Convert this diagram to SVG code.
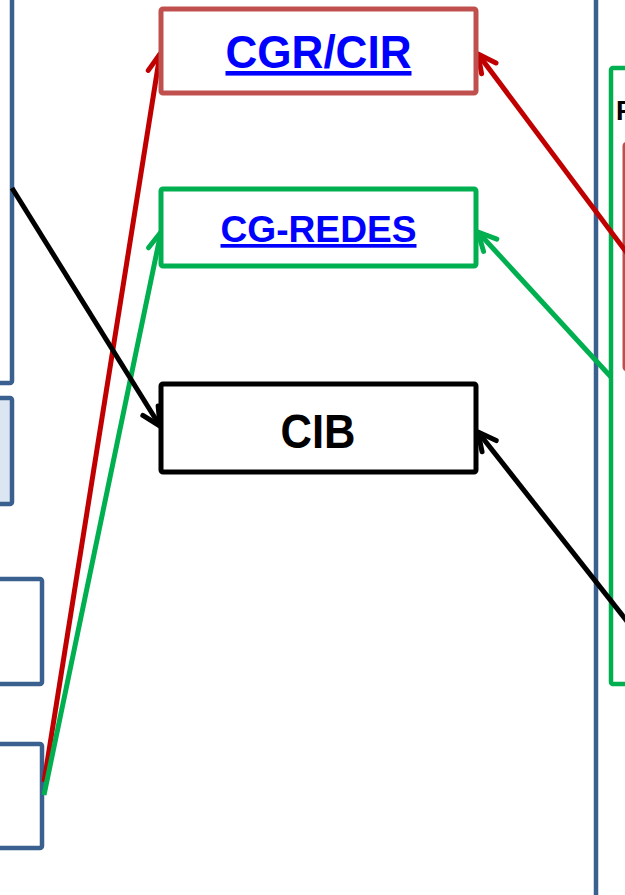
<svg xmlns="http://www.w3.org/2000/svg" width="625" height="895" viewBox="0 0 625 895">
<style>
.blue{fill:none;stroke:#3A6090;stroke-width:4.5}
.box{fill:#fff;stroke-width:5}
.lbl{font-family:"Liberation Sans",Arial,sans-serif;font-weight:bold;text-anchor:middle}
.link{fill:#0000FF;text-decoration:underline}
.con{fill:none;stroke-width:5}
</style>
<defs>
<marker id="ar" markerUnits="userSpaceOnUse" viewBox="-24 -14 28 28" refX="0" refY="0" markerWidth="28" markerHeight="28" orient="auto"><path d="M-18,-9 L0,0 L-18,9" fill="none" stroke="#C00000" stroke-width="5" stroke-linecap="round" stroke-linejoin="round"/></marker>
<marker id="ag" markerUnits="userSpaceOnUse" viewBox="-24 -14 28 28" refX="0" refY="0" markerWidth="28" markerHeight="28" orient="auto"><path d="M-18,-9 L0,0 L-18,9" fill="none" stroke="#00B050" stroke-width="5" stroke-linecap="round" stroke-linejoin="round"/></marker>
<marker id="ak" markerUnits="userSpaceOnUse" viewBox="-24 -14 28 28" refX="0" refY="0" markerWidth="28" markerHeight="28" orient="auto"><path d="M-18,-9 L0,0 L-18,9" fill="none" stroke="#000" stroke-width="5" stroke-linecap="round" stroke-linejoin="round"/></marker>
</defs>
<rect width="625" height="895" fill="#fff"/>
<g id="left-panels">
<rect class="blue" x="-20" y="-20" width="32" height="403" rx="2"/>
<rect class="blue" x="-20" y="398" width="32" height="106" rx="2" style="fill:#DCE6F2"/>
<rect class="blue" x="-20" y="579" width="62" height="105" rx="2"/>
<rect class="blue" x="-20" y="744" width="62" height="104" rx="2"/>
</g>
<g id="right-panel">
<line x1="596" y1="-5" x2="596" y2="900" stroke="#3A6090" stroke-width="4.5"/>
<rect x="611" y="68" width="40" height="616" rx="2" fill="none" stroke="#00B050" stroke-width="4.5"/>
<rect x="624" y="143" width="30" height="227" rx="3" fill="none" stroke="#C0504D" stroke-width="3"/>
<text x="616" y="120" font-family="Liberation Sans,Arial,sans-serif" font-weight="bold" font-size="27" fill="#000">P</text>
</g>
<g id="connectors">
<line class="con" stroke="#C00000" x1="44" y1="782" x2="160" y2="54" marker-end="url(#ar)"/>
<line class="con" stroke="#00B050" x1="44" y1="795" x2="161" y2="232" marker-end="url(#ag)"/>
<line class="con" stroke="#000" x1="12" y1="188" x2="160" y2="426" marker-end="url(#ak)"/>
<line class="con" stroke="#C00000" x1="630" y1="257" x2="478" y2="54" marker-end="url(#ar)"/>
<line class="con" stroke="#00B050" x1="611" y1="377" x2="478" y2="232" marker-end="url(#ag)"/>
<line class="con" stroke="#000" x1="630" y1="625" x2="478" y2="432" marker-end="url(#ak)"/>
</g>
<g id="cgr-cir">
<rect class="box" x="161" y="9" width="315" height="84" rx="2" stroke="#C0504D"/>
<text class="lbl link" x="318.5" y="68" font-size="46" textLength="186" lengthAdjust="spacingAndGlyphs">CGR/CIR</text>
</g>
<g id="cg-redes">
<rect class="box" x="161" y="189" width="315" height="77" rx="2" stroke="#00B050"/>
<text class="lbl link" x="318.5" y="242" font-size="37" textLength="196" lengthAdjust="spacingAndGlyphs">CG-REDES</text>
</g>
<g id="cib">
<rect class="box" x="161" y="384" width="315" height="88" rx="2" stroke="#000"/>
<text class="lbl" x="318" y="448" font-size="49" textLength="75" lengthAdjust="spacingAndGlyphs" fill="#000">CIB</text>
</g>
</svg>
